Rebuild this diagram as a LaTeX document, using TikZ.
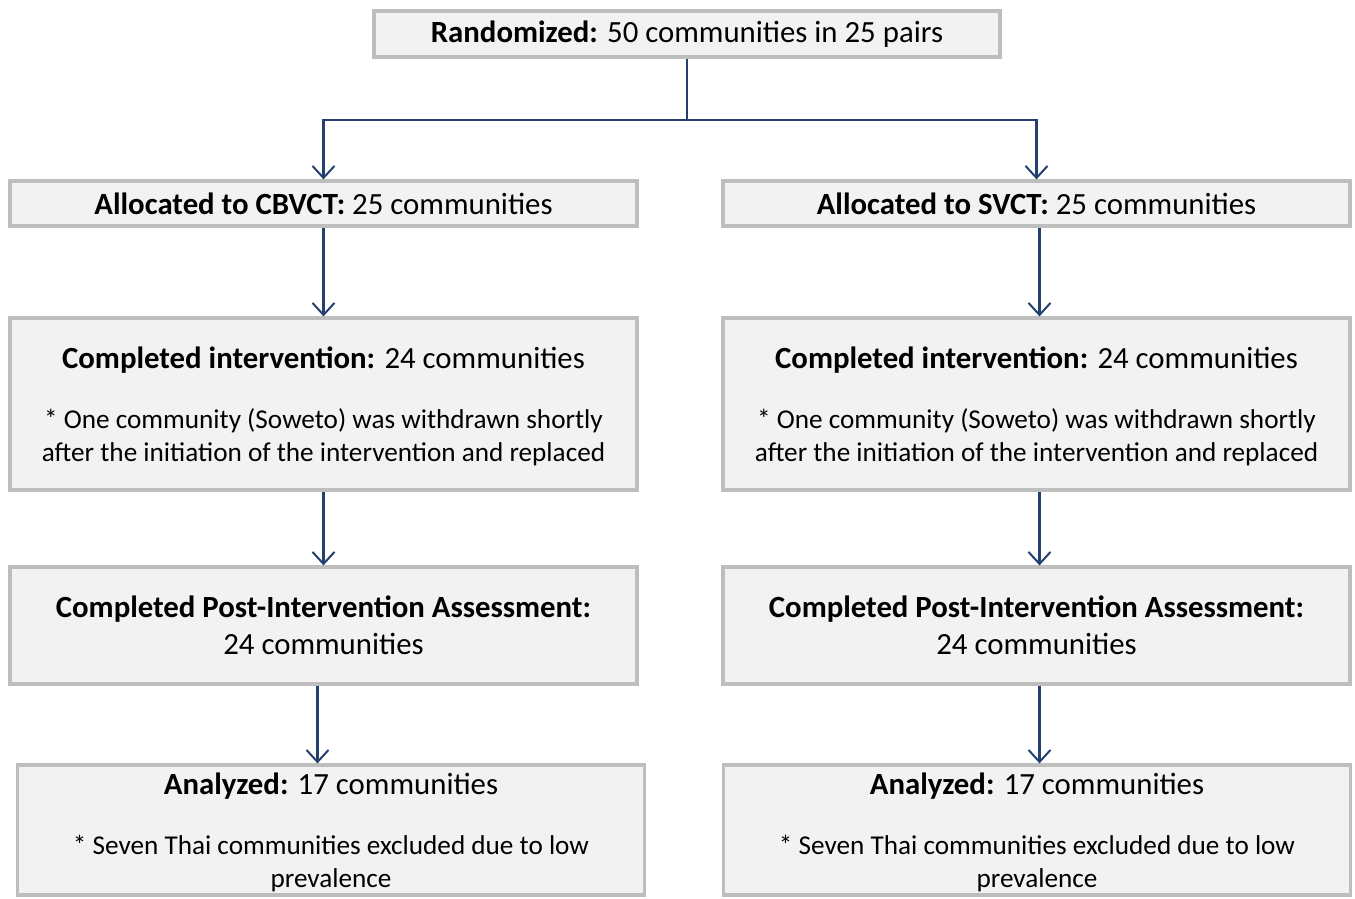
\documentclass[tikz,border=0pt]{standalone}
\usepackage{fontspec}
\setmainfont{Carlito}
\usetikzlibrary{arrows.meta}
\definecolor{boxfill}{RGB}{242,242,242}
\definecolor{boxline}{RGB}{190,190,190}
\definecolor{arrblue}{RGB}{36,64,112}
\tikzset{
  box/.style={draw=boxline,line width=1.6pt,fill=boxfill,minimum width=313.5pt,inner sep=0pt,align=center,
    font=\fontsize{15.4}{18.5}\selectfont},
  arr/.style={arrblue,line width=1.4pt,-{Straight Barb[length=6pt,width=11pt,line width=1pt]}}
}
\newcommand{\notesize}{\fontsize{13.6}{16.5}\selectfont}
\begin{document}
\begin{tikzpicture}[x=0.5pt,y=-0.5pt]
  \useasboundingbox (0,0) rectangle (1355,899);
  \node[box,minimum width=313pt,minimum height=23pt] (rand) at (687,34) {\textbf{Randomized:} 50 communities in 25 pairs};
  \node[box,minimum height=22.5pt] (allocL) at (323.5,203.5) {\textbf{Allocated to CBVCT:} 25 communities};
  \node[box,minimum height=22.5pt] (allocR) at (1036.5,203.5) {\textbf{Allocated to SVCT:} 25 communities};
  \node[box,minimum height=86pt,text depth=0pt] (compL) at (323.5,404) {\textbf{Completed intervention:} 24 communities\\[11.5pt]
    \notesize * One community (Soweto) was withdrawn shortly\\[-2pt]\notesize after the initiation of the intervention and replaced};
  \node[box,minimum height=86pt,text depth=0pt] (compR) at (1036.5,404) {\textbf{Completed intervention:} 24 communities\\[11.5pt]
    \notesize * One community (Soweto) was withdrawn shortly\\[-2pt]\notesize after the initiation of the intervention and replaced};
  \node[box,minimum height=58.5pt] (postL) at (323.5,625.5) {\textbf{Completed Post-Intervention Assessment:}\\24 communities};
  \node[box,minimum height=58.5pt] (postR) at (1036.5,625.5) {\textbf{Completed Post-Intervention Assessment:}\\24 communities};
  \node[box,minimum height=65pt,text depth=0pt] (anaL) at (331,830) {\textbf{Analyzed:} 17 communities\\[11.5pt]
    \notesize * Seven Thai communities excluded due to low\\[-2pt]\notesize prevalence};
  \node[box,minimum height=65pt,text depth=0pt] (anaR) at (1037,830) {\textbf{Analyzed:} 17 communities\\[11.5pt]
    \notesize * Seven Thai communities excluded due to low\\[-2pt]\notesize prevalence};
  \coordinate (split) at (687,120);
  \draw[arr] (rand.south) -- (split) -| (allocL.north);
  \draw[arr] (split) -| (allocR.north);
  \draw[arr] (allocL) -- (compL);
  \draw[arr] ([xshift=1.5pt]allocR.south) -- ([xshift=1.5pt]compR.north);
  \draw[arr] (compL) -- (postL);
  \draw[arr] ([xshift=1.5pt]compR.south) -- ([xshift=1.5pt]postR.north);
  \draw[arr] ([xshift=-3pt]postL.south) -- ([xshift=-3pt]postL.south |- anaL.north);
  \draw[arr] ([xshift=1.5pt]postR.south) -- ([xshift=1.5pt]postR.south |- anaR.north);
\end{tikzpicture}
\end{document}
